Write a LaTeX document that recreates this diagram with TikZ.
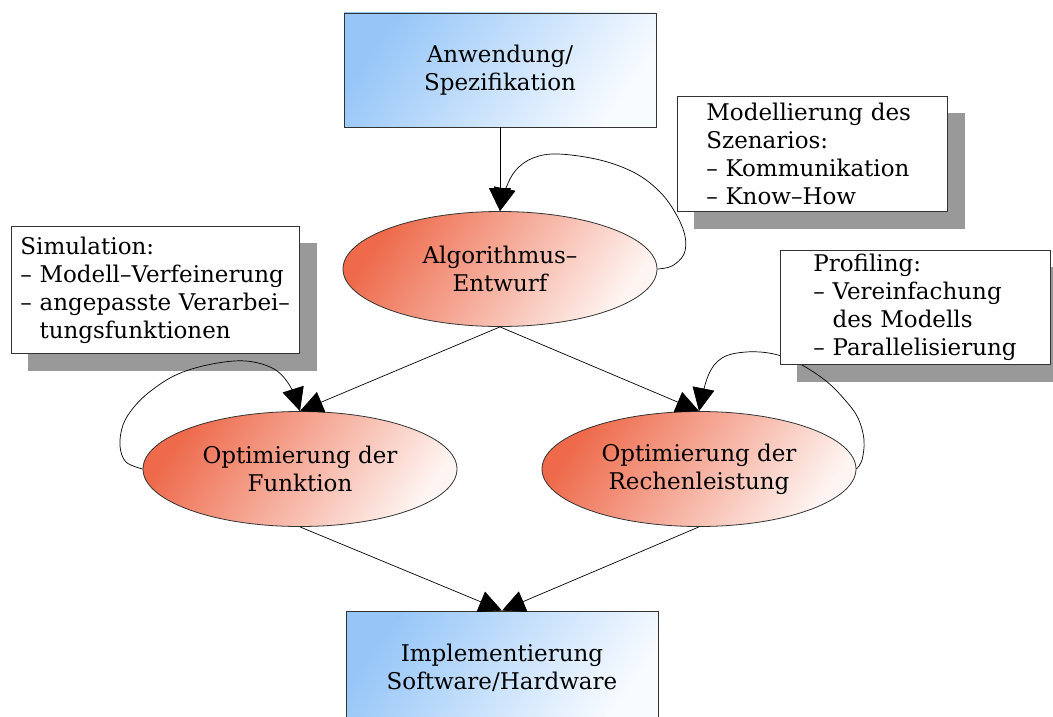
\documentclass[tikz,border=0pt]{standalone}
\usepackage{fontspec}
\setmainfont{DejaVu Serif}
\usetikzlibrary{arrows.meta,shapes.geometric,backgrounds}
\definecolor{bluedeep}{HTML}{96C6F8}
\definecolor{bluepale}{HTML}{F8FBFF}
\definecolor{reddeep}{HTML}{EE6A4B}
\definecolor{redpale}{HTML}{FEF4F1}
\definecolor{shadowgray}{HTML}{999999}
\begin{document}
\begin{tikzpicture}[x=1pt,y=-1pt,
  font=\fontsize{23}{28}\selectfont,
  stage/.style={rectangle, draw=black!80, line width=0.8pt,
    minimum width=312pt, minimum height=114pt, inner sep=0pt, align=center,
    top color=bluedeep, bottom color=bluepale, shading angle=55},
  task/.style={ellipse, draw=black!80, line width=0.8pt,
    minimum width=314pt, minimum height=115pt, inner sep=0pt, align=center,
    top color=reddeep, bottom color=redpale, shading angle=55},
  note/.style={rectangle, draw=black!80, line width=0.8pt, fill=white,
    anchor=north west, align=left, inner ysep=0pt},
  flow/.style={line width=0.7pt, -{Triangle[length=23pt,width=22pt]}},
]
\useasboundingbox (0,0) rectangle (1053,717);

% process stages
\node[stage] (spec) at (500,70) {Anwendung/\\Spezifikation};
\node[task]  (alg)  at (500,269) {Algorithmus–\\Entwurf};
\node[task]  (fun)  at (300,469) {Optimierung der\\Funktion};
\node[task]  (rech) at (699,469) {Optimierung der\\Rechenleistung};
\node[stage] (impl) at (502,668) {Implementierung\\Software/Hardware};

% main flow
\draw[flow] (spec.south) -- (alg.north);
\draw[flow] (alg.south) -- (fun.north);
\draw[flow] (alg.south) -- (rech.north);
\draw[flow] (fun.south) -- (impl.north);
\draw[flow] (rech.south) -- (impl.north);

% iteration loops
\draw[flow] plot[smooth, tension=0.6] coordinates {(alg.east) (672,266) (684,254)
  (685,236) (676,214) (660,192) (635,173) (600,160) (558,154) (533,158)
  (516,170) (506,188) (alg.north)};
\draw[flow] plot[smooth, tension=0.6] coordinates {(fun.west) (126,462) (120,446)
  (123,425) (134,407) (152,390) (178,374) (212,364) (246,361) (274,369)
  (290,386) (fun.north)};
\draw[flow] plot[smooth, tension=0.6] coordinates {(rech.east) (862,460) (864,440)
  (858,418) (845,400) (826,381) (800,364) (774,354) (746,352) (722,358)
  (708,376) (rech.north)};

% annotations
\node[note, inner xsep=29pt, text width=212pt, minimum height=115pt] (model) at (677,96)
  {\mbox{Modellierung des}\\\mbox{Szenarios:}\\\mbox{– Kommunikation}\\\mbox{– Know–How}};
\node[note, inner xsep=9pt, text width=270pt, minimum height=127pt] (sim) at (11,226)
  {\mbox{Simulation:}\\\mbox{– Modell–Verfeinerung}\\\mbox{– angepasste Verarbei–}\\\mbox{\hphantom{– }tungsfunktionen}};
\node[note, inner xsep=33pt, text width=204pt, minimum height=114pt] (prof) at (780,250)
  {\mbox{Profiling:}\\\mbox{– Vereinfachung}\\\mbox{\hphantom{– }des Modells}\\\mbox{– Parallelisierung}};

% drop shadows of the annotations
\begin{pgfonlayer}{background}
  \foreach \n in {model,sim,prof}
    \fill[shadowgray] ([shift={(17pt,-17pt)}]\n.south west) rectangle ([shift={(17pt,-17pt)}]\n.north east);
\end{pgfonlayer}
\end{tikzpicture}
\end{document}
